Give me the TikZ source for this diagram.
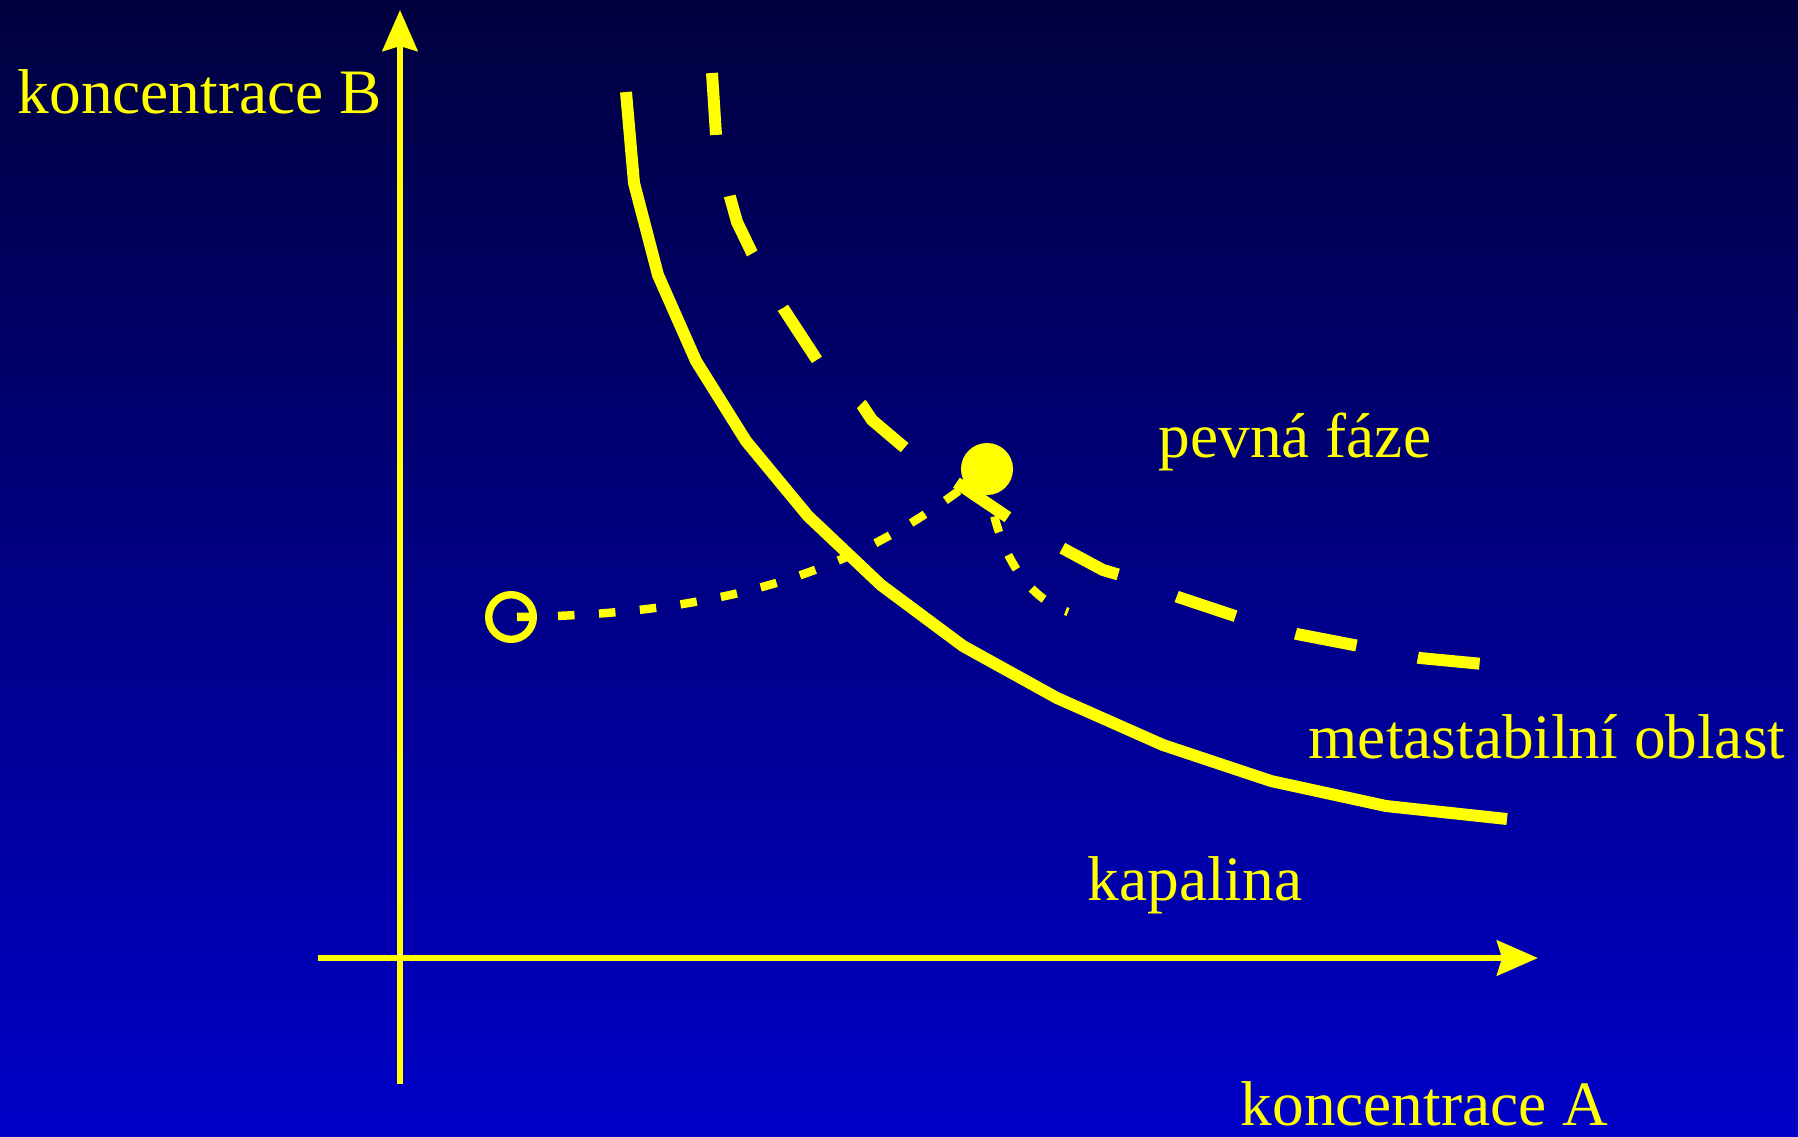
\documentclass[tikz,border=0pt]{standalone}
\usepackage{fontspec}
\setmainfont{Liberation Serif}
\usepackage{xcolor}
\usetikzlibrary{arrows.meta}

\definecolor{bgtop}{RGB}{0,0,62}
\definecolor{bgbot}{RGB}{0,0,200}
\definecolor{ylw}{RGB}{255,255,0}

\begin{document}
\begin{tikzpicture}[x=0.01cm,y=-0.01cm,
  lbl/.style={text=ylw,font=\fontsize{18}{20}\selectfont,anchor=base west,inner sep=0pt},
  axis/.style={draw=ylw,line width=1.8pt,-{Stealth[length=0.41cm,width=0.35cm,inset=0.05cm]}},
  phaseline/.style={draw=ylw,line width=3.4pt},
  metaline/.style={draw=ylw,line width=3.4pt,dash pattern=on 0.62cm off 0.625cm},
  trajline/.style={draw=ylw,line width=2.4pt,dash pattern=on 0.165cm off 0.245cm},
  startpt/.style={circle,draw=ylw,line width=2.1pt,inner sep=0pt,minimum size=0.446cm},
  nucpt/.style={circle,fill=ylw,inner sep=0pt,minimum size=0.52cm}]
\shade[top color=bgtop,bottom color=bgbot] (0,0) rectangle (1798,1136);
\coordinate (ybot) at (400,1084);
\coordinate (ytop) at (400,10);
\coordinate (xleft) at (318,958);
\coordinate (xright) at (1538,958);
\draw[axis] (ybot) -- (ytop);
\draw[axis] (xleft) -- (xright);
\draw[phaseline] (626,92) -- (634,183) -- (658,275) -- (696,361) -- (746,441) -- (808,516)
  -- (881,585) -- (963,646) -- (1057,698) -- (1163,745) -- (1271,781) -- (1386,806) -- (1507,819);
\draw[metaline] (712,73) -- (716,135) -- (730,197) -- (737,222) -- (752,253) -- (783,308) -- (817,360)
  -- (862,405) -- (872,420) -- (905,448) -- (963,487) -- (1009,518) -- (1062,548) -- (1103,570)
  -- (1120,575) -- (1178,597) -- (1202,605) -- (1238,617) -- (1297,634) -- (1359,646) -- (1420,658) -- (1483,664);
\node[startpt] (start) at (511,617) {};
\node[nucpt] (nuc) at (987,469) {};
\coordinate (stop) at (1068,612);
\draw[trajline,dash phase=0.35cm] (start.center) .. controls (760,615) and (880,555) .. (nuc.center);
\draw[trajline,dash phase=0.34cm] (nuc.center) .. controls (992,540) and (1020,595) .. (stop);
\node[lbl] (ylab) at (17,113) {koncentrace B};
\node[lbl] (xlab) at (1240,1125) {koncentrace A};
\node[lbl] (solidlab) at (1158,457) {pevná fáze};
\node[lbl] (metalab) at (1308,758) {metastabilní oblast};
\node[lbl] (liqlab) at (1087,900) {kapalina};
\end{tikzpicture}
\end{document}
